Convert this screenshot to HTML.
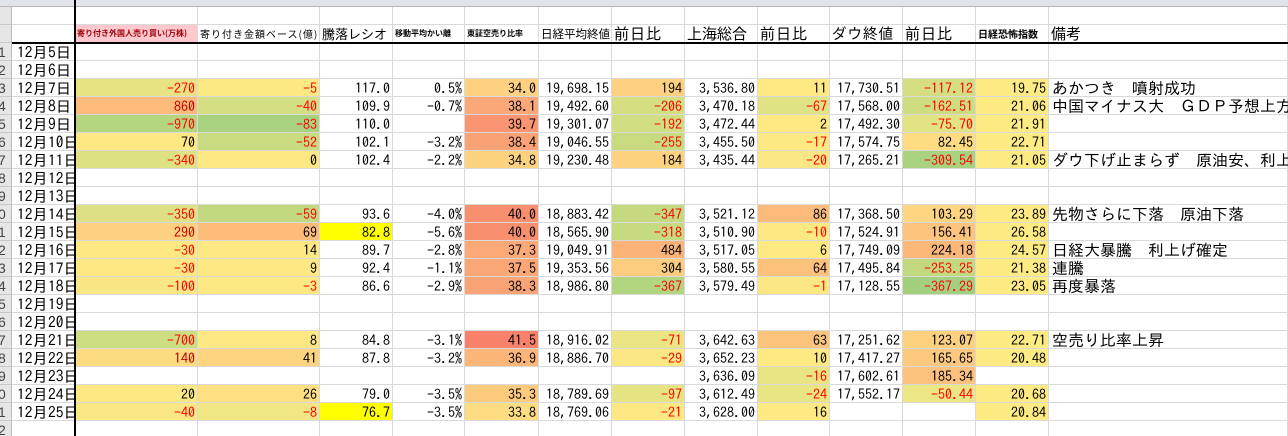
<!DOCTYPE html>
<html><head><meta charset="utf-8">
<style>
html,body{margin:0;padding:0;background:#fff;width:1288px;height:436px;overflow:hidden;position:relative}
.top{position:absolute;left:0;top:0;width:1288px;height:7px;background:#e1e4e8;border-bottom:1px solid #b8b8b8;box-sizing:border-box}
.g{position:absolute;left:0;top:7px;display:grid;grid-template-columns:12px 63px 123px 122px 73px 72px 74px 73px 73px 73px 72px 73px 73px 73px 239px;grid-auto-rows:18px;font-family:"IPAGothic","Noto Sans CJK JP",monospace;font-size:14px;color:#000}
.g>div{box-sizing:border-box;border-right:1px solid #d9d9d9;border-bottom:1px solid #d9d9d9;text-align:right;padding-right:2px;line-height:18px;white-space:nowrap;overflow:hidden}
.g>div.h{background:#e6e6e6;color:#444;text-align:left;padding:0;text-indent:-2px;font-family:"Liberation Sans",sans-serif;font-size:14px;border-right:1px solid #bbb;border-bottom:1px solid #c8c8c8}
.g>div.a{text-align:left;padding-left:5px;font-size:15.5px}
.g>div.n{text-align:left;padding-left:3px;font-size:16px;overflow:visible}
.g>div.t{text-align:left;padding-left:2px;font-size:14px;font-family:"Noto Sans CJK JP",sans-serif;line-height:18px}
.r{color:#ff0000}.dr{color:#c00000}
.y{background:#ffff00}
.vl{position:absolute;left:74px;top:0;width:2px;height:436px;background:#000}
.hl{position:absolute;left:12px;top:42px;width:1276px;height:2px;background:#000}
</style></head><body>
<div class="top"></div>
<div class="g">
<div class="h"></div><div></div><div></div><div></div><div></div><div></div><div></div><div></div><div></div><div></div><div></div><div></div><div></div><div></div><div></div>
<div class="h"></div><div></div>
<div class="t" style="background:#ffc7ce;color:#9c0006;font-size:8px;font-weight:bold">寄り付き外国人売り買い(万株)</div>
<div class="t" style="font-size:10px;letter-spacing:1px">寄り付き金額ベース(億)</div>
<div class="t" style="font-size:13px">騰落レシオ</div>
<div class="t" style="font-size:8px;font-weight:bold">移動平均かい離</div>
<div class="t" style="font-size:8px;font-weight:bold">東証空売り比率</div>
<div class="t" style="font-size:11.5px">日経平均終値</div>
<div class="t" style="font-size:15px;letter-spacing:1px">前日比</div>
<div class="t" style="font-size:15px">上海総合</div>
<div class="t" style="font-size:15px;letter-spacing:1px">前日比</div>
<div class="t" style="font-size:14.5px;letter-spacing:1px">ダウ終値</div>
<div class="t" style="font-size:15px;letter-spacing:1px">前日比</div>
<div class="t" style="font-size:10px;font-weight:bold">日経恐怖指数</div>
<div class="t" style="font-size:15px">備考</div>

<div class="h">1</div><div class="a">12月5日</div><div></div><div></div><div></div><div></div><div></div><div></div><div></div><div></div><div></div><div></div><div></div><div></div><div></div>
<div class="h">2</div><div class="a">12月6日</div><div></div><div></div><div></div><div></div><div></div><div></div><div></div><div></div><div></div><div></div><div></div><div></div><div></div>

<div class="h">3</div><div class="a">12月7日</div><div class="r" style="background:#e8e483">-270</div><div class="r" style="background:#fde984">-5</div><div>117.0</div><div>0.5%</div><div style="background:#fed280">34.0</div><div>19,698.15</div><div style="background:#fdd17f">194</div><div>3,536.80</div><div style="background:#fee983">11</div><div>17,730.51</div><div class="r" style="background:#d5df82">-117.12</div><div style="background:#ffeb84">19.75</div><div class="n">あかつき　噴射成功</div>

<div class="h">4</div><div class="a">12月8日</div><div class="dr" style="background:#fbbb7b">860</div><div class="r" style="background:#d3df82">-40</div><div>109.9</div><div>-0.7%</div><div style="background:#faa878">38.1</div><div>19,492.60</div><div class="r" style="background:#d5df82">-206</div><div>3,470.18</div><div class="r" style="background:#e0e383">-67</div><div>17,568.00</div><div class="r" style="background:#cfdd81">-162.51</div><div style="background:#ffeb84">21.06</div><div class="n">中国マイナス大　ＧＤＰ予想上方</div>

<div class="h">5</div><div class="a">12月9日</div><div class="r" style="background:#b5d67f">-970</div><div class="r" style="background:#a8d27f">-83</div><div>110.0</div><div></div><div style="background:#f99572">39.7</div><div>19,301.07</div><div class="r" style="background:#d2de82">-192</div><div>3,472.44</div><div style="background:#fee983">2</div><div>17,492.30</div><div class="r" style="background:#e2e383">-75.70</div><div style="background:#ffeb84">21.91</div><div class="n"></div>

<div class="h">6</div><div class="a">12月10日</div><div style="background:#fee883">70</div><div class="r" style="background:#c9db81">-52</div><div>102.1</div><div>-3.2%</div><div style="background:#f9a276">38.4</div><div>19,046.55</div><div class="r" style="background:#c8db81">-255</div><div>3,455.50</div><div class="r" style="background:#fde984">-17</div><div>17,574.75</div><div style="background:#fedc81">82.45</div><div style="background:#ffeb84">22.71</div><div class="n"></div>

<div class="h">7</div><div class="a">12月11日</div><div class="r" style="background:#dee283">-340</div><div style="background:#fee883">0</div><div>102.4</div><div>-2.2%</div><div style="background:#fed380">34.8</div><div>19,230.48</div><div style="background:#fed380">184</div><div>3,435.44</div><div class="r" style="background:#fbe884">-20</div><div>17,265.21</div><div class="r" style="background:#a9d27f">-309.54</div><div style="background:#ffeb84">21.05</div><div class="n">ダウ下げ止まらず　原油安、利上</div>

<div class="h">8</div><div class="a">12月12日</div><div></div><div></div><div></div><div></div><div></div><div></div><div></div><div></div><div></div><div></div><div></div><div></div><div></div>
<div class="h">9</div><div class="a">12月13日</div><div></div><div></div><div></div><div></div><div></div><div></div><div></div><div></div><div></div><div></div><div></div><div></div><div></div>

<div class="h">0</div><div class="a">12月14日</div><div class="r" style="background:#dde183">-350</div><div class="r" style="background:#c2d980">-59</div><div>93.6</div><div>-4.0%</div><div style="background:#f8906f">40.0</div><div>18,883.42</div><div class="r" style="background:#c4d980">-347</div><div>3,521.12</div><div style="background:#fbbb7b">86</div><div>17,368.50</div><div style="background:#fed580">103.29</div><div style="background:#ffeb84">23.89</div><div class="n">先物さらに下落　原油下落</div>

<div class="h">1</div><div class="a">12月15日</div><div class="dr" style="background:#fdd17f">290</div><div style="background:#fcbd7b">69</div><div class="y">82.8</div><div>-5.6%</div><div style="background:#f8906f">40.0</div><div>18,565.90</div><div class="r" style="background:#c6da81">-318</div><div>3,510.90</div><div class="r" style="background:#fee883">-10</div><div>17,524.91</div><div style="background:#fdc47d">156.41</div><div style="background:#ffeb84">26.58</div><div class="n"></div>

<div class="h">2</div><div class="a">12月16日</div><div class="r" style="background:#fde884">-30</div><div style="background:#fde884">14</div><div>89.7</div><div>-2.8%</div><div style="background:#fbaa77">37.3</div><div>19,049.91</div><div style="background:#fbb379">484</div><div>3,517.05</div><div style="background:#fee983">6</div><div>17,749.09</div><div style="background:#fbb879">224.18</div><div style="background:#ffeb84">24.57</div><div class="n">日経大暴騰　利上げ確定</div>

<div class="h">3</div><div class="a">12月17日</div><div class="r" style="background:#fde884">-30</div><div style="background:#fde884">9</div><div>92.4</div><div>-1.1%</div><div style="background:#faa777">37.5</div><div>19,353.56</div><div style="background:#fdcd7f">304</div><div>3,580.55</div><div style="background:#fcc27c">64</div><div>17,495.84</div><div class="r" style="background:#c2d980">-253.25</div><div style="background:#ffeb84">21.38</div><div class="n">連騰</div>

<div class="h">4</div><div class="a">12月18日</div><div class="r" style="background:#f8e784">-100</div><div class="r" style="background:#fde984">-3</div><div>86.6</div><div>-2.9%</div><div style="background:#f9a476">38.3</div><div>18,986.80</div><div class="r" style="background:#b2d57f">-367</div><div>3,579.49</div><div class="r" style="background:#fbe884">-1</div><div>17,128.55</div><div class="r" style="background:#a2d07f">-367.29</div><div style="background:#ffeb84">23.05</div><div class="n">再度暴落</div>

<div class="h">5</div><div class="a">12月19日</div><div></div><div></div><div></div><div></div><div></div><div></div><div></div><div></div><div></div><div></div><div></div><div></div><div></div>
<div class="h">6</div><div class="a">12月20日</div><div></div><div></div><div></div><div></div><div></div><div></div><div></div><div></div><div></div><div></div><div></div><div></div><div></div>

<div class="h">7</div><div class="a">12月21日</div><div class="r" style="background:#cddd82">-700</div><div style="background:#fee883">8</div><div>84.8</div><div>-3.1%</div><div style="background:#f8816b">41.5</div><div>18,916.02</div><div class="r" style="background:#ebe583">-71</div><div>3,642.63</div><div style="background:#fcc37c">63</div><div>17,251.62</div><div style="background:#fed17f">123.07</div><div style="background:#ffeb84">22.71</div><div class="n">空売り比率上昇</div>

<div class="h">8</div><div class="a">12月22日</div><div class="dr" style="background:#fddb81">140</div><div style="background:#fdd47f">41</div><div>87.8</div><div>-3.2%</div><div style="background:#fcb67a">36.9</div><div>18,886.70</div><div class="r" style="background:#fbe884">-29</div><div>3,652.23</div><div style="background:#fee983">10</div><div>17,417.27</div><div style="background:#fdc97e">165.65</div><div style="background:#ffeb84">20.48</div><div class="n"></div>

<div class="h">9</div><div class="a">12月23日</div><div></div><div></div><div></div><div></div><div></div><div></div><div></div><div>3,636.09</div><div class="r" style="background:#eae583">-16</div><div>17,602.61</div><div style="background:#fcc17c">185.34</div><div></div><div class="n"></div>

<div class="h">0</div><div class="a">12月24日</div><div style="background:#fee883">20</div><div style="background:#fedf82">26</div><div>79.0</div><div>-3.5%</div><div style="background:#fdcb7e">35.3</div><div>18,789.69</div><div class="r" style="background:#e7e483">-97</div><div>3,612.49</div><div class="r" style="background:#eae583">-24</div><div>17,552.17</div><div class="r" style="background:#ede684">-50.44</div><div style="background:#ffeb84">20.68</div><div class="n"></div>

<div class="h">1</div><div class="a">12月25日</div><div class="r" style="background:#f9e884">-40</div><div class="r" style="background:#f0e684">-8</div><div class="y">76.7</div><div>-3.5%</div><div style="background:#fedd82">33.8</div><div>18,769.06</div><div class="r" style="background:#fee884">-21</div><div>3,628.00</div><div style="background:#fee983">16</div><div></div><div></div><div style="background:#ffeb84">20.84</div><div class="n"></div>

<div class="h">2</div><div></div><div></div><div></div><div></div><div></div><div></div><div></div><div></div><div></div><div></div><div></div><div></div><div></div><div></div>
</div>
<div class="vl"></div>
<div class="hl"></div>
</body></html>
